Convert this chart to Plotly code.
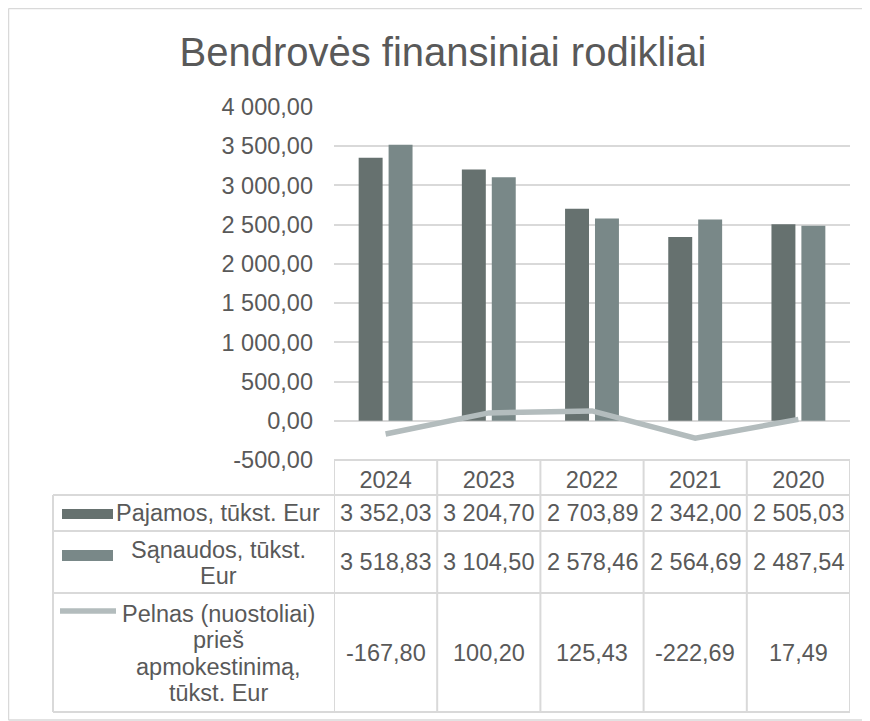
import plotly.graph_objects as go

# ---------------- data ----------------
years = ["2024", "2023", "2022", "2021", "2020"]
pajamos = [3352.03, 3204.70, 2703.89, 2342.00, 2505.03]
sanaudos = [3518.83, 3104.50, 2578.46, 2564.69, 2487.54]
pelnas = [-167.80, 100.20, 125.43, -222.69, 17.49]

name_pajamos = "Pajamos, tūkst. Eur"
name_sanaudos = "Sąnaudos, tūkst.<br>Eur"
name_pelnas = "Pelnas (nuostoliai)<br>prieš<br>apmokestinimą,<br>tūkst. Eur"

y_tickvals = [-500, 0, 500, 1000, 1500, 2000, 2500, 3000, 3500, 4000]
y_ticktext = ["-500,00", "0,00", "500,00", "1 000,00", "1 500,00", "2 000,00",
              "2 500,00", "3 000,00", "3 500,00", "4 000,00"]

title_text = "Bendrovės finansiniai rodikliai"

# ---------------- styling ----------------
W, H = 870, 721
OFF = 8            # page offset of the figure in the browser
FONT = "Liberation Sans, Arial, sans-serif"
TXT = "#595959"
GRID = "#d9d9d9"
C_PAJ = "#66716f"
C_SAN = "#798888"
C_PEL = "#b3bcbd"
FS = 23.5


def X(px):
    return (px - OFF) / W


def Y(py):
    return 1 - (py - OFF) / H


def fmt(v):
    return f"{v:,.2f}".replace(",", " ").replace(".", ",")


# layout geometry (target pixels)
plot_left, plot_right = 334, 850
plot_top, plot_bottom = 107, 460
y_lo, y_hi = -500, 4000
pad = 6  # data units of extra range so edge gridlines are drawn
px_per_unit = (plot_bottom - plot_top) / (y_hi - y_lo)
table_left = 53
row_lines = [495, 531, 593, 712]
rows = [(495, 531), (531, 593), (593, 712)]
label_cx = 218
line_step = 26.5

fig = go.Figure()
fig.add_trace(go.Bar(x=years, y=pajamos, name=name_pajamos, marker=dict(color=C_PAJ, line=dict(width=0))))
fig.add_trace(go.Bar(x=years, y=sanaudos, name=name_sanaudos, marker=dict(color=C_SAN, line=dict(width=0))))
fig.add_trace(go.Scatter(x=years, y=pelnas, name=name_pelnas, mode="lines",
                         line=dict(color=C_PEL, width=5.5)))

shapes = []
annotations = []

# chart border (left, top, bottom)
bl = dict(color=GRID, width=1.5)
shapes.append(dict(type="line", xref="paper", yref="paper", x0=X(8.5), x1=X(8.5), y0=Y(8.5), y1=Y(720), line=bl))
shapes.append(dict(type="line", xref="paper", yref="paper", x0=X(8.5), x1=1.01, y0=Y(8.5), y1=Y(8.5), line=bl))
shapes.append(dict(type="line", xref="paper", yref="paper", x0=X(8.5), x1=1.01, y0=Y(720), y1=Y(720), line=bl))

tl = dict(color=GRID, width=2)
# table verticals at category boundaries
for i in range(len(years) + 1):
    shapes.append(dict(type="line", xref="x", yref="paper", x0=i - 0.5, x1=i - 0.5,
                       y0=Y(plot_bottom), y1=Y(row_lines[-1]), line=tl))
# table left border
shapes.append(dict(type="line", xref="paper", yref="paper", x0=X(table_left), x1=X(table_left),
                   y0=Y(row_lines[0]), y1=Y(row_lines[-1]), line=tl))
# table top (under the plot) and row lines
shapes.append(dict(type="line", xref="paper", yref="paper", x0=X(plot_left), x1=X(plot_right),
                   y0=Y(plot_bottom), y1=Y(plot_bottom), line=tl))
for ry in row_lines:
    shapes.append(dict(type="line", xref="paper", yref="paper", x0=X(table_left), x1=X(plot_right),
                       y0=Y(ry), y1=Y(ry), line=tl))

# legend keys
shapes.append(dict(type="rect", xref="paper", yref="paper", x0=X(62), x1=X(113), y0=Y(509), y1=Y(519),
                   fillcolor=C_PAJ, line=dict(width=0)))
shapes.append(dict(type="rect", xref="paper", yref="paper", x0=X(62), x1=X(113), y0=Y(550), y1=Y(561),
                   fillcolor=C_SAN, line=dict(width=0)))
shapes.append(dict(type="line", xref="paper", yref="paper", x0=X(60), x1=X(116), y0=Y(611), y1=Y(611),
                   line=dict(color=C_PEL, width=5.5)))

# header labels (line by line)
for (r0, r1), name in zip(rows, [name_pajamos, name_sanaudos, name_pelnas]):
    parts = name.split("<br>")
    cy = (r0 + r1) / 2 + (1 if len(parts) > 1 else 0)
    start = cy - line_step * (len(parts) - 1) / 2
    for k, p in enumerate(parts):
        annotations.append(dict(text=p, xref="paper", yref="paper", x=X(label_cx), y=Y(start + k * line_step),
                                xanchor="center", yanchor="middle", showarrow=False,
                                font=dict(family=FONT, size=FS, color=TXT)))

# values in the data table
for (r0, r1), vals in zip(rows, [pajamos, sanaudos, pelnas]):
    cy = (r0 + r1) / 2
    for i, v in enumerate(vals):
        annotations.append(dict(text=fmt(v), xref="x", yref="paper", x=i, y=Y(cy),
                                xanchor="center", yanchor="middle", showarrow=False,
                                font=dict(family=FONT, size=FS, color=TXT)))

fig.update_layout(
    template="none",
    width=W, height=H, autosize=False,
    margin=dict(l=0, r=0, t=0, b=0, pad=0),
    paper_bgcolor="white", plot_bgcolor="white",
    showlegend=False,
    barmode="group", bargap=0.42, bargroupgap=0.2,
    title=dict(text=title_text, x=X(443), y=Y(52), xanchor="center", yanchor="middle",
               xref="paper", yref="paper", automargin=False,
               font=dict(family=FONT, size=40, color=TXT)),
    font=dict(family=FONT, size=FS, color=TXT),
    xaxis=dict(domain=[X(plot_left), X(plot_right)], type="category", range=[-0.5, 4.5],
               automargin=False, showgrid=False, zeroline=False, showline=False, ticks="",
               tickfont=dict(family=FONT, size=FS, color=TXT), ticklabelstandoff=3),
    yaxis=dict(domain=[Y(plot_bottom + pad * px_per_unit), Y(plot_top - pad * px_per_unit)],
               range=[y_lo - pad, y_hi + pad],
               tickvals=y_tickvals, ticktext=y_ticktext, automargin=False,
               showgrid=True, gridcolor=GRID, gridwidth=1.5, zeroline=False, showline=False, ticks="",
               tickfont=dict(family=FONT, size=FS, color=TXT), ticklabelstandoff=20),
    shapes=shapes,
    annotations=annotations,
)

fig.write_html("out.html")
